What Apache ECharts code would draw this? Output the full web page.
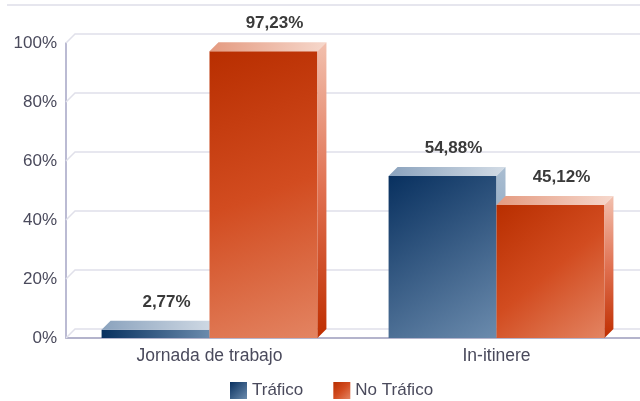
<!DOCTYPE html>
<html>
<head>
<meta charset="utf-8">
<script src="https://cdn.jsdelivr.net/npm/echarts@6/dist/echarts.min.js"></script>
<style>
  html, body { margin: 0; padding: 0; background: #fff; }
  #chart { width: 640px; height: 401px; }
</style>
</head>
<body>
<div id="chart"></div>
<script>
// datos
var categorias = ['Jornada de trabajo', 'In-itinere'];
var trafico = [2.77, 54.88];
var noTrafico = [97.23, 45.12];
var yTicks = [0, 20, 40, 60, 80, 100];

var FONT = '"Liberation Sans", Arial, sans-serif';
var DEPTH = 9;
var G = echarts.graphic.LinearGradient;

var estilos = {
    'Tráfico': {
        front: function () { return new G(0, 0, 1, 1, [{offset: 0, color: '#08305f'}, {offset: 1, color: '#6b8bad'}]); },
        top: function () { return new G(0, 0, 1, 0, [{offset: 0, color: '#8aa2bd'}, {offset: 1, color: '#d3dce6'}]); },
        side: function () { return new G(0, 0, 0, 1, [{offset: 0, color: '#a9bdd1'}, {offset: 1, color: '#6d8cae'}]); }
    },
    'No Tráfico': {
        front: function () { return new G(0, 0, 1, 1, [{offset: 0, color: '#b82e00'}, {offset: 0.5, color: '#d24c20'}, {offset: 1, color: '#e38462'}]); },
        top: function () { return new G(0, 0, 1, 0, [{offset: 0, color: '#e49a80'}, {offset: 1, color: '#f6d8cc'}]); },
        side: function () { return new G(0, 0, 0, 1, [{offset: 0, color: '#f2c0ae'}, {offset: 0.5, color: '#e07050'}, {offset: 1, color: '#bf2e00'}]); }
    }
};

function fmt(v) {
    return v.toFixed(2).replace('.', ',') + '%';
}

// barra 3D: cara frontal, superior y lateral
function barra3d(nombre, lado) {
    return function (params, api) {
        var idx = api.value(0);
        var val = api.value(1);
        var top = api.coord([idx, val]);
        var base = api.coord([idx, 0]);
        var band = api.size([1, 0])[0];
        var w = band * 0.376;
        var x0 = lado < 0 ? top[0] - w : top[0];
        var x1 = x0 + w;
        var yT = top[1], yB = base[1], d = DEPTH;
        var st = estilos[nombre];
        return {
            type: 'group',
            children: [
                {type: 'rect', shape: {x: x0, y: yT, width: w, height: yB - yT}, style: {fill: st.front()}},
                {type: 'polygon', shape: {points: [[x0, yT], [x1, yT], [x1 + d, yT - d], [x0 + d, yT - d]]}, style: {fill: st.top()}},
                {type: 'polygon', shape: {points: [[x1, yT], [x1 + d, yT - d], [x1 + d, yB - d], [x1, yB]]}, style: {fill: st.side()}},
                {type: 'text', x: (x0 + x1) / 2 + 11, y: yT - 28, style: {
                    text: fmt(val), fill: '#3a3a3a', font: 'bold 17px ' + FONT,
                    align: 'center', verticalAlign: 'middle'
                }}
            ]
        };
    };
}

var option = {
    animation: false,
    grid: {
        left: 66,
        right: 0,
        top: 43,
        bottom: 63
    },
    legend: {
        left: 225,
        top: 377,
        itemWidth: 17,
        itemHeight: 17,
        itemGap: 30,
        icon: 'rect',
        textStyle: {fontSize: 17, color: '#4a4a5c', fontFamily: FONT},
        data: [
            {name: 'Tráfico', itemStyle: {color: estilos['Tráfico'].front()}},
            {name: 'No Tráfico', itemStyle: {color: estilos['No Tráfico'].front()}}
        ]
    },
    xAxis: {
        type: 'category',
        data: categorias,
        axisLine: {lineStyle: {color: '#9c9cbc', width: 1.5}},
        axisTick: {show: false},
        axisLabel: {fontSize: 17.5, color: '#4a4a5c', fontFamily: FONT, margin: 9}
    },
    yAxis: {
        type: 'value',
        min: 0,
        max: 100,
        interval: 20,
        axisLine: {show: true, lineStyle: {color: '#a4a4c4', width: 1.5}},
        axisTick: {show: false},
        splitLine: {show: false},
        axisLabel: {formatter: '{value}%', fontSize: 17, color: '#4a4a5c', fontFamily: FONT, margin: 9}
    },
    graphic: [
        {type: 'rect', shape: {x: 7, y: 4, width: 640, height: 2}, style: {fill: '#e6e6ee'}}
    ],
    series: [
        {
            name: 'pared',
            type: 'custom',
            silent: true,
            clip: false,
            data: yTicks.map(function (v) { return [0, v]; }),
            renderItem: function (params, api) {
                var y = api.coord([0, api.value(1)])[1];
                var x0 = params.coordSys.x;
                var x1 = x0 + params.coordSys.width;
                return {
                    type: 'polyline',
                    shape: {points: [[x0, y], [x0 + DEPTH, y - DEPTH], [x1, y - DEPTH]]},
                    style: {stroke: '#e0e0ea', lineWidth: 1.5, fill: null}
                };
            }
        },
        {
            name: 'Tráfico',
            type: 'custom',
            clip: false,
            data: trafico.map(function (v, i) { return [i, v]; }),
            renderItem: barra3d('Tráfico', -1)
        },
        {
            name: 'No Tráfico',
            type: 'custom',
            clip: false,
            data: noTrafico.map(function (v, i) { return [i, v]; }),
            renderItem: barra3d('No Tráfico', 1)
        }
    ]
};

var myChart = echarts.init(document.getElementById('chart'));
myChart.setOption(option);
window.addEventListener('resize', function () {
    myChart.resize();
});
</script>
</body>
</html>
